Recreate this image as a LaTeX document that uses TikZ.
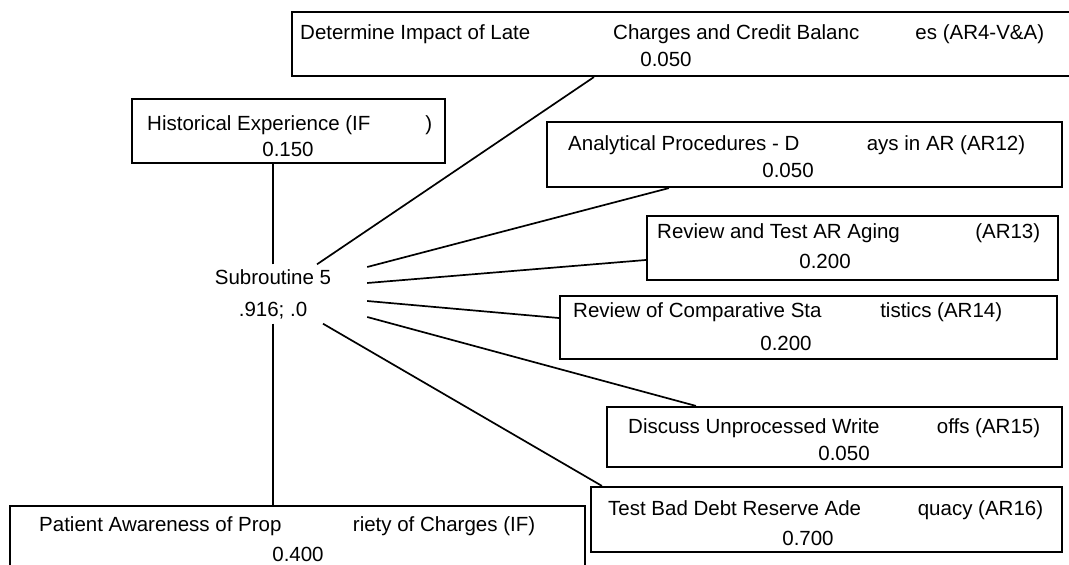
\documentclass[tikz,border=0pt]{standalone}
\usepackage{fontspec}
\setmainfont{Liberation Sans}
\begin{document}
\begin{tikzpicture}[
      x=1pt,y=-1pt,
      factor/.style={draw,line width=2.2pt,inner sep=0pt},
      title/.style={inner sep=0pt,anchor=base west,font=\fontsize{20.5pt}{24pt}\selectfont},
      weight/.style={inner sep=0pt,anchor=base,font=\fontsize{20.5pt}{24pt}\selectfont},
      link/.style={line width=1.7pt}
    ]
    \useasboundingbox (0,0) rectangle (1069,565);
    % Draw the subroutine.
    \node[inner sep=0pt,minimum width=188pt,minimum height=59pt,align=center,
          font=\fontsize{20.5pt}{32pt}\selectfont] (sub) at (273,294) {Subroutine 5\\.916; .0};
    % Draw the factor boxes.
    \node[factor,minimum width=783pt,minimum height=64pt] (det)  at (683.5,44)   {};
    \node[factor,minimum width=313pt,minimum height=64pt] (hist) at (288.5,131)  {};
    \node[factor,minimum width=515pt,minimum height=65pt] (ar12) at (804.5,154.5) {};
    \node[factor,minimum width=411pt,minimum height=64pt] (ar13) at (852.5,248)  {};
    \node[factor,minimum width=497pt,minimum height=63pt] (ar14) at (808.5,327.5) {};
    \node[factor,minimum width=455pt,minimum height=60pt] (ar15) at (834.5,437)  {};
    \node[factor,minimum width=471pt,minimum height=65pt] (ar16) at (826.5,519.5) {};
    \node[factor,minimum width=575pt,minimum height=100pt] (pat) at (297.5,556)  {};
    % Draw the titles and weights.
    \node[title] (detT) at (300,39) {\makebox[744pt]{\makebox[313pt][l]{Determine Impact of Late}Charges and Credit Balanc\hfill es (AR4-V\&A)}};
    \node[weight] (detW) at (666,66) {0.050};
    \node[title] (histT) at (147,130.5) {\makebox[285pt]{Historical Experience (IF\hfill)}};
    \node[weight] (histW) at (288,156) {0.150};
    \node[title] (ar12T) at (568,150) {\makebox[457pt]{Analytical Procedures - D\hfill ays in AR (AR12)}};
    \node[weight] (ar12W) at (788,177) {0.050};
    \node[title] (ar13T) at (657,238) {\makebox[383pt]{Review and Test AR Aging\hfill (AR13)}};
    \node[weight] (ar13W) at (825,268) {0.200};
    \node[title] (ar14T) at (573,317) {\makebox[429pt]{Review of Comparative Sta\hfill tistics (AR14)}};
    \node[weight] (ar14W) at (786,350) {0.200};
    \node[title] (ar15T) at (628,433) {\makebox[412pt]{Discuss Unprocessed Write\hfill offs (AR15)}};
    \node[weight] (ar15W) at (844,460) {0.050};
    \node[title] (ar16T) at (608,515) {\makebox[435pt]{Test Bad Debt Reserve Ade\hfill quacy (AR16)}};
    \node[weight] (ar16W) at (808,545) {0.700};
    \node[title] (patT) at (39,531) {\makebox[496pt]{Patient Awareness of Prop\hfill riety of Charges (IF)}};
    \node[weight] (patW) at (298,561) {0.400};
    % Draw the links.
    \draw[link] (sub.north) -- (sub.north |- hist.south);
    \draw[link] (sub.south) -- (sub.south |- pat.north);
    \draw[link] ([xshift=44pt]sub.north) -- ([xshift=303pt]det.south west);
    \draw[link] ([yshift=27pt]sub.east) -- ([xshift=123pt]ar12.south west);
    \draw[link] ([yshift=11pt]sub.east) -- ([yshift=-12pt]ar13.west);
    \draw[link] ([yshift=-7pt]sub.east) -- ([yshift=9.5pt]ar14.west);
    \draw[link] ([yshift=-23pt]sub.east) -- ([xshift=90pt]ar15.north west);
    \draw[link] ([xshift=50pt]sub.south) -- ([xshift=12pt]ar16.north west);
\end{tikzpicture}
\end{document}
